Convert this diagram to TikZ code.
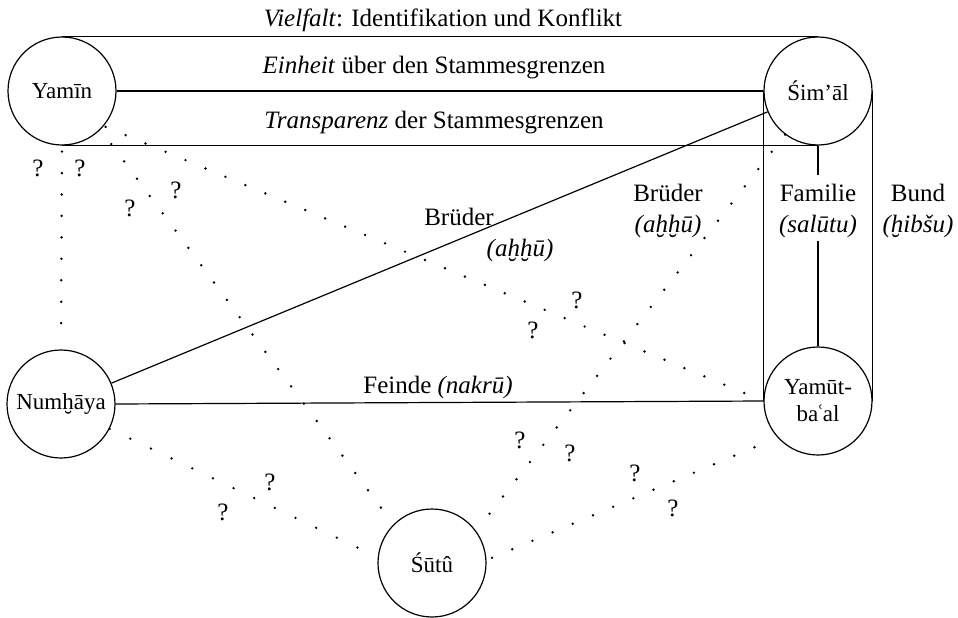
\documentclass[tikz,border=0pt]{standalone}
\usepackage{fontspec}
\setmainfont{Liberation Serif}
\newcommand\nodefont{\fontsize{23}{27}\selectfont}
\newcommand\edgefont{\fontsize{25}{30}\selectfont}
\begin{document}
\begin{tikzpicture}[x=1pt,y=-1pt,
  tribe/.style={circle, draw, line width=1.2pt, minimum size=108pt, inner sep=0pt, font=\nodefont, align=center},
  rel/.style={line width=1.2pt},
  dotl/.style={line width=2.7pt, line cap=round, dash pattern=on 0pt off #1},
  lbl/.style={inner sep=0pt, anchor=base, font=\edgefont},
  qm/.style={inner sep=0pt, font=\edgefont}]
\useasboundingbox (0,0) rectangle (958,618);
% tribes
\node[tribe] (yamin) at (62,91) {Yamīn};
\node[tribe] (simal) at (818,91) {Śim’āl};
\node[tribe] (numh) at (61,404) {Numḫāya};
\node[tribe] (yamut) at (818,401) {Yamūt-\\ba\kern-1.5ptʿ\kern-1.5ptal};
\node[tribe] (sutu) at (432,563) {Śūtû};
% labels
\node[lbl] (vielfalt) at (443,27) {\textit{Vielfalt}: Identifikation und Konflikt};
\node[lbl] (einheit) at (434,74) {\textit{Einheit} über den Stammesgrenzen};
\node[lbl] (transp) at (434,128) {\textit{Transparenz} der Stammesgrenzen};
\node[lbl] (feinde) at (438,393) {Feinde \textit{(nakrū)}};
\node[lbl] (bra) at (459,225) {Brüder};
\node[lbl] (brb) at (520,256) {\textit{(aḫḫū)}};
\node[lbl] (brc) at (668,201) {Brüder};
\node[lbl] (brd) at (668,232) {\textit{(aḫḫū)}};
\node[lbl] (fama) at (818,201) {Familie};
\node[lbl] (famb) at (818,232) {\textit{(salūtu)}};
\node[lbl] (bunda) at (918,201) {Bund};
\node[lbl] (bundb) at (918,232) {\textit{(ḫibšu)}};
% solid relations
\draw[rel] (yamin.north) -- (simal.north);
\draw[rel] (yamin.east) -- (simal.west);
\draw[rel] (yamin.south) -- (simal.south);
\draw[rel] (simal.west) -- (yamut.west);
\draw[rel] (simal.east) -- (yamut.east);
\draw[rel] (simal.south) -- ([yshift=8pt]fama.north);
\draw[rel] ([yshift=-3pt]famb.south) -- (yamut.north);
\draw[rel] (numh) -- (simal);
\draw[rel] (numh.east) -- (yamut.west);
% dotted relations
\draw[dotl=21.44pt, shorten <=6pt, shorten >=6pt] (yamin.south) -- (numh.north);
\draw[dotl=21.55pt, shorten <=18pt] (yamin.-45) -- (sutu.135);
\draw[dotl=21.62pt, shorten <=2pt] (yamin.-40) -- (yamut.west);
\draw[dotl=22.9pt] (numh.-27) -- (sutu.174);
\draw[dotl=21.85pt] (simal.233) -- (sutu.36);
\draw[dotl=21.9pt, shorten <=6pt, shorten >=4pt] (sutu.3) -- (yamut.222);
% question marks
\node[qm] (q1) at (38,168) {?};
\node[qm] (q2) at (80,168) {?};
\node[qm] (q3) at (130,208) {?};
\node[qm] (q4) at (176,190) {?};
\node[qm] (q5) at (577,300) {?};
\node[qm] (q6) at (533,330) {?};
\node[qm] (q7) at (270,482) {?};
\node[qm] (q8) at (223,512) {?};
\node[qm] (q9) at (520,440) {?};
\node[qm] (q10) at (570,453) {?};
\node[qm] (q11) at (635,473) {?};
\node[qm] (q12) at (673,508) {?};
\end{tikzpicture}
\end{document}
